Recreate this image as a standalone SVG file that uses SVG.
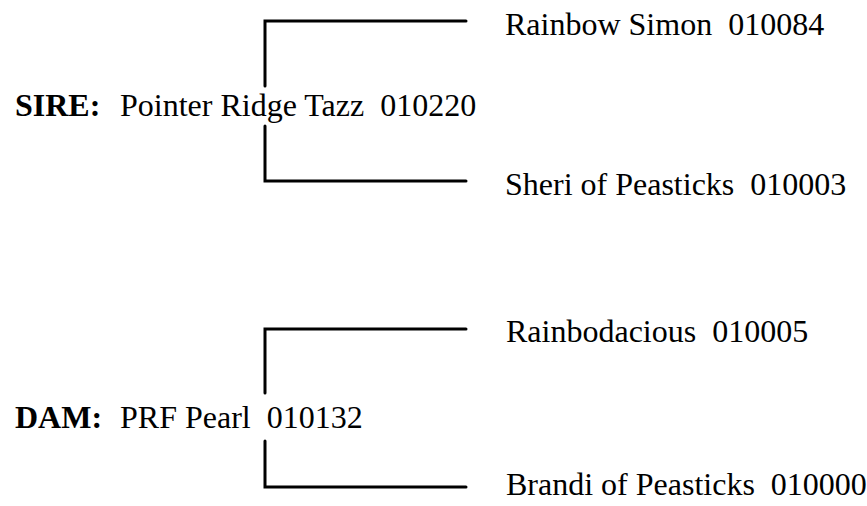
<svg xmlns="http://www.w3.org/2000/svg" width="867" height="506" viewBox="0 0 867 506">
<style>
text{font-family:"Liberation Serif","Times New Roman",serif;font-size:32px;fill:#000}
.b{font-weight:bold}
.c{fill:none;stroke:#000;stroke-width:3;stroke-linecap:round;stroke-linejoin:miter}
</style>
<rect width="867" height="506" fill="#fff"/>
<g id="connectors">
<path class="c" d="M265,86 V21 H466"/>
<path class="c" d="M265,126 V181 H466"/>
<path class="c" d="M265,393 V329 H466"/>
<path class="c" d="M265,441 V487 H466"/>
</g>
<g id="sire">
<text x="15" y="116"><tspan class="b">SIRE:</tspan></text>
<text x="120" y="116" xml:space="preserve">Pointer Ridge Tazz  010220</text>
</g>
<g id="sire-sire"><text x="505" y="35" xml:space="preserve">Rainbow Simon  010084</text></g>
<g id="sire-dam"><text x="505" y="195" xml:space="preserve">Sheri of Peasticks  010003</text></g>
<g id="dam">
<text x="15" y="428"><tspan class="b">DAM:</tspan></text>
<text x="120" y="428" xml:space="preserve">PRF Pearl  010132</text>
</g>
<g id="dam-sire"><text x="506" y="342" xml:space="preserve">Rainbodacious  010005</text></g>
<g id="dam-dam"><text x="506" y="495" xml:space="preserve">Brandi of Peasticks  010000</text></g>
</svg>
